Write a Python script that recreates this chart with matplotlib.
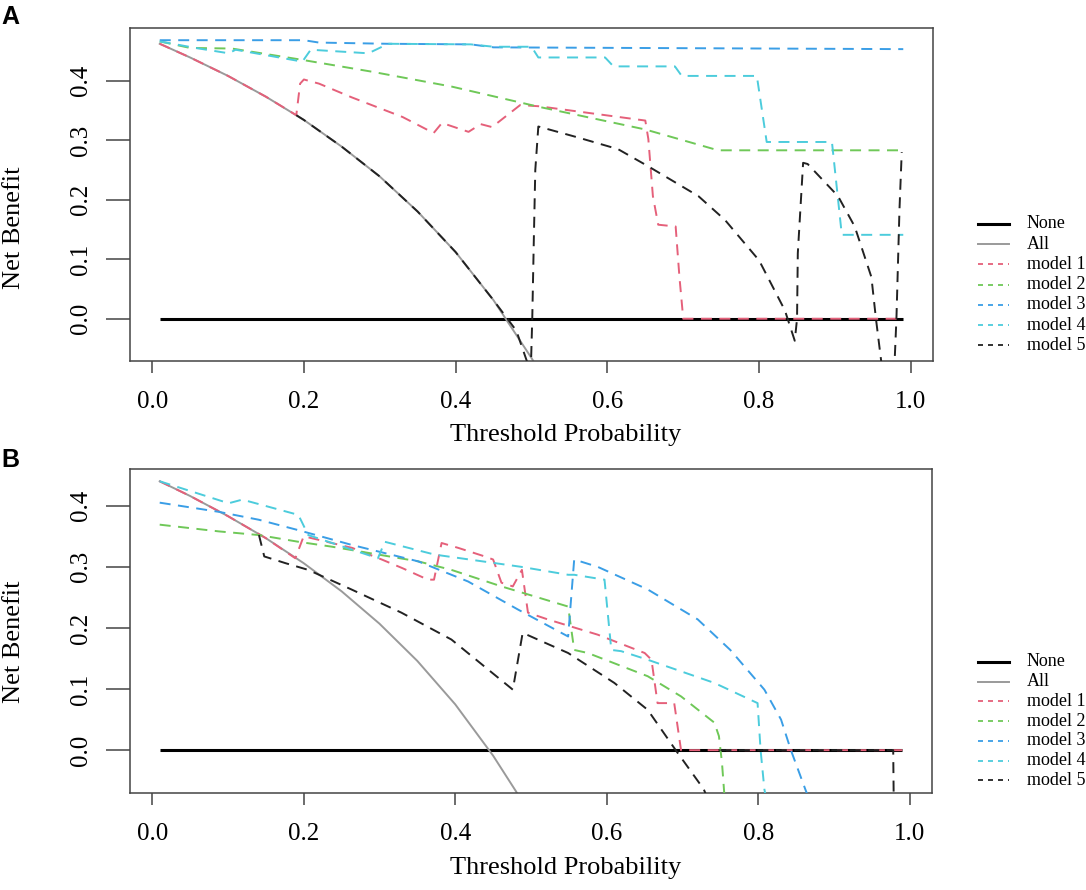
import numpy as np
import matplotlib
matplotlib.use("Agg")
import matplotlib.pyplot as plt
from matplotlib.lines import Line2D

plt.rcParams['font.family'] = ['Liberation Serif', 'DejaVu Serif']
plt.rcParams['lines.scale_dashes'] = False

# ---------------- data ----------------
legend_labels = ["None", "All", "model 1", "model 2", "model 3", "model 4", "model 5"]
model_colors = ["#E5607A", "#6FC858", "#3A9EE6", "#4CCCDC", "#222222"]
x_ticks = [0.0, 0.2, 0.4, 0.6, 0.8, 1.0]
y_ticks = [0.0, 0.1, 0.2, 0.3, 0.4]

none_x = [0.01, 0.99]
none_y = [0.0, 0.0]

# Panel A
A_all_x = [0.01, 0.05, 0.10, 0.15, 0.20, 0.25, 0.30, 0.35, 0.40, 0.45, 0.50, 0.53]
A_all_y = [0.462, 0.439, 0.408, 0.373, 0.334, 0.289, 0.239, 0.180, 0.112, 0.031, -0.066, -0.13]

A_m1_x = [0.01, 0.05, 0.10, 0.15, 0.19, 0.195, 0.20, 0.22, 0.263, 0.33, 0.371, 0.382, 0.417, 0.433,
          0.448, 0.485, 0.51, 0.65, 0.654, 0.66, 0.667, 0.69, 0.695, 0.70, 0.99]
A_m1_y = [0.462, 0.439, 0.408, 0.373, 0.342, 0.395, 0.402, 0.395, 0.372, 0.339, 0.312, 0.329, 0.314, 0.327,
          0.322, 0.359, 0.357, 0.333, 0.302, 0.206, 0.158, 0.155, 0.07, 0.0, 0.0]

A_m2_x = [0.01, 0.05, 0.105, 0.193, 0.29, 0.395, 0.483, 0.51, 0.65, 0.746, 0.99]
A_m2_y = [0.466, 0.455, 0.454, 0.436, 0.415, 0.390, 0.364, 0.356, 0.318, 0.283, 0.283]

A_m3_x = [0.01, 0.20, 0.22, 0.31, 0.42, 0.45, 0.99]
A_m3_y = [0.468, 0.468, 0.464, 0.462, 0.461, 0.456, 0.453]

A_m4_x = [0.01, 0.057, 0.101, 0.11, 0.198, 0.209, 0.285, 0.303, 0.31, 0.42, 0.45, 0.50, 0.509,
          0.597, 0.608, 0.689, 0.698, 0.797, 0.81, 0.896, 0.909, 0.99]
A_m4_y = [0.466, 0.455, 0.446, 0.452, 0.432, 0.452, 0.446, 0.457, 0.462, 0.461, 0.457, 0.457, 0.439,
          0.439, 0.424, 0.424, 0.408, 0.408, 0.297, 0.297, 0.141, 0.141]

A_m5_x = [0.19, 0.20, 0.25, 0.30, 0.35, 0.40, 0.45, 0.48, 0.499, 0.501, 0.503, 0.505, 0.509, 0.56,
          0.614, 0.654, 0.72, 0.755, 0.80, 0.834, 0.847, 0.85, 0.851, 0.858, 0.864, 0.904, 0.926,
          0.948, 0.954, 0.961, 0.966, 0.976, 0.981, 0.985, 0.988]
A_m5_y = [0.342, 0.334, 0.289, 0.239, 0.180, 0.112, 0.031, -0.02, -0.09, 0.0, 0.129, 0.25, 0.323, 0.305,
          0.285, 0.256, 0.206, 0.166, 0.098, 0.014, -0.037, 0.0, 0.11, 0.262, 0.26, 0.206, 0.155,
          0.07, 0.0, -0.072, -0.15, -0.15, 0.0, 0.183, 0.28]

# Panel B
B_all_x = [0.01, 0.05, 0.10, 0.15, 0.20, 0.25, 0.30, 0.35, 0.40, 0.45, 0.48, 0.50]
B_all_y = [0.440, 0.416, 0.383, 0.347, 0.306, 0.260, 0.207, 0.146, 0.075, -0.009, -0.067, -0.11]

B_m1_x = [0.01, 0.05, 0.10, 0.15, 0.189, 0.20, 0.264, 0.303, 0.33, 0.364, 0.372, 0.382, 0.404, 0.439,
          0.45, 0.461, 0.476, 0.488, 0.496, 0.522, 0.588, 0.65, 0.659, 0.667, 0.689, 0.698, 0.99]
B_m1_y = [0.440, 0.416, 0.383, 0.347, 0.314, 0.350, 0.331, 0.312, 0.298, 0.279, 0.279, 0.339, 0.331, 0.317,
          0.312, 0.274, 0.268, 0.295, 0.225, 0.214, 0.189, 0.159, 0.148, 0.077, 0.077, 0.0, 0.0]

B_m2_x = [0.01, 0.088, 0.141, 0.193, 0.237, 0.351, 0.395, 0.461, 0.549, 0.557, 0.575, 0.654, 0.698,
          0.742, 0.748, 0.752, 0.758]
B_m2_y = [0.369, 0.358, 0.352, 0.341, 0.333, 0.309, 0.295, 0.268, 0.235, 0.164, 0.159, 0.121, 0.088,
          0.045, 0.023, -0.02, -0.12]

B_m3_x = [0.01, 0.088, 0.141, 0.193, 0.263, 0.351, 0.417, 0.483, 0.549, 0.557, 0.588, 0.654, 0.72,
          0.763, 0.808, 0.83, 0.843, 0.862, 0.87]
B_m3_y = [0.405, 0.390, 0.377, 0.360, 0.336, 0.309, 0.276, 0.230, 0.186, 0.312, 0.300, 0.263, 0.214,
          0.164, 0.099, 0.050, 0.0, -0.064, -0.09]

B_m4_x = [0.01, 0.101, 0.119, 0.193, 0.206, 0.298, 0.307, 0.373, 0.487, 0.549, 0.557, 0.597, 0.606,
          0.619, 0.654, 0.742, 0.799, 0.803, 0.808, 0.812]
B_m4_y = [0.440, 0.404, 0.410, 0.385, 0.352, 0.314, 0.341, 0.320, 0.300, 0.287, 0.287, 0.279, 0.164,
          0.162, 0.148, 0.110, 0.077, 0.0, -0.064, -0.09]

B_m5_x = [0.141, 0.148, 0.176, 0.206, 0.263, 0.329, 0.395, 0.476, 0.489, 0.549, 0.61, 0.654, 0.691,
          0.728, 0.74, np.nan, 0.75, 0.978, 0.979]
B_m5_y = [0.352, 0.317, 0.306, 0.295, 0.263, 0.225, 0.181, 0.099, 0.192, 0.159, 0.110, 0.066, 0.0,
          -0.064, -0.10, np.nan, 0.0, 0.0, -0.12]

panels = {
    "A": dict(all=(A_all_x, A_all_y),
              models=[(A_m1_x, A_m1_y), (A_m2_x, A_m2_y), (A_m3_x, A_m3_y), (A_m4_x, A_m4_y), (A_m5_x, A_m5_y)],
              ylim=(-0.071, 0.488)),
    "B": dict(all=(B_all_x, B_all_y),
              models=[(B_m1_x, B_m1_y), (B_m2_x, B_m2_y), (B_m3_x, B_m3_y), (B_m4_x, B_m4_y), (B_m5_x, B_m5_y)],
              ylim=(-0.0696, 0.4596)),
}

# ---------------- figure ----------------
W, H = 1086, 890
fig = plt.figure(figsize=(W / 100, H / 100), dpi=100)

def fx(px):
    return px / W

def fy(py):
    return 1 - py / H

layout = {
    "A": dict(top=28.3, bottom=361.0, left=130, right=933, ylab_y=0.40, xlab_y=-0.222,
              leg_y0=224.0, leg_dy=20.2, letter_y=5),
    "B": dict(top=469.3, bottom=792.7, left=130, right=932, ylab_y=0.467, xlab_y=-0.232,
              leg_y0=662.0, leg_dy=19.7, letter_y=448),
}

dash = (0, (7.9, 5.4))
spine_col = "#444444"

for key in ["A", "B"]:
    p = panels[key]
    L = layout[key]
    ax = fig.add_axes([fx(L["left"]), fy(L["bottom"]), fx(L["right"] - L["left"]),
                       (L["bottom"] - L["top"]) / H])
    ax.plot(none_x, none_y, color="black", lw=2.2, solid_capstyle="butt", zorder=2)
    ax.plot(*p["all"], color="#9A9A9A", lw=1.4, zorder=2)
    for (mx, my), c in zip(p["models"], model_colors):
        ax.plot(mx, my, color=c, lw=1.4, linestyle=dash, zorder=3)

    ax.set_xlim(-0.0292, 1.0292)
    ax.set_ylim(*p["ylim"])
    ax.set_xticks(x_ticks)
    ax.set_xticklabels([f"{v:.1f}" for v in x_ticks])
    ax.set_yticks(y_ticks)
    ax.set_yticklabels([f"{v:.1f}" for v in y_ticks])
    for s in ax.spines.values():
        s.set_color(spine_col)
        s.set_linewidth(1.1)
    ax.tick_params(axis="x", direction="out", length=8.6, width=1.1, color=spine_col,
                   labelsize=18, pad=13)
    ax.tick_params(axis="y", direction="out", length=17, width=1.1, color=spine_col,
                   labelsize=18, pad=18)
    for t in ax.get_yticklabels():
        t.set_rotation(90)
        t.set_va("center")
        t.set_ha("center")
        t.set_rotation_mode("default")

    ax.set_xlabel("Threshold Probability", fontsize=19)
    ax.xaxis.label.set_va("center")
    ax.xaxis.set_label_coords((566 - L["left"]) / (L["right"] - L["left"]), L["xlab_y"])
    ax.set_ylabel("Net Benefit", fontsize=19)
    ax.yaxis.label.set_va("center")
    ax.yaxis.set_label_coords((14 - L["left"]) / (L["right"] - L["left"]), L["ylab_y"])

    # panel letter
    fig.text(fx(1), fy(L["letter_y"]), key, fontsize=18, fontweight="bold",
             family=["Liberation Sans", "DejaVu Sans"], ha="left", va="top")

    # legend (drawn outside the plot region, to the right)
    styles = [dict(color="black", lw=2.2, ls="-"),
              dict(color="#9A9A9A", lw=1.4, ls="-")] + \
             [dict(color=c, lw=1.3, ls=(0, (3.6, 3.6))) for c in model_colors]
    for i, (lab, st) in enumerate(zip(legend_labels, styles)):
        yy = fy(L["leg_y0"] + i * L["leg_dy"])
        fig.add_artist(Line2D([fx(978), fx(1009)], [yy, yy], transform=fig.transFigure,
                              color=st["color"], lw=st["lw"], linestyle=st["ls"]))
        fig.text(fx(1027), yy, lab, fontsize=13, ha="left", va="center")

fig.savefig("out.png", dpi=100)
